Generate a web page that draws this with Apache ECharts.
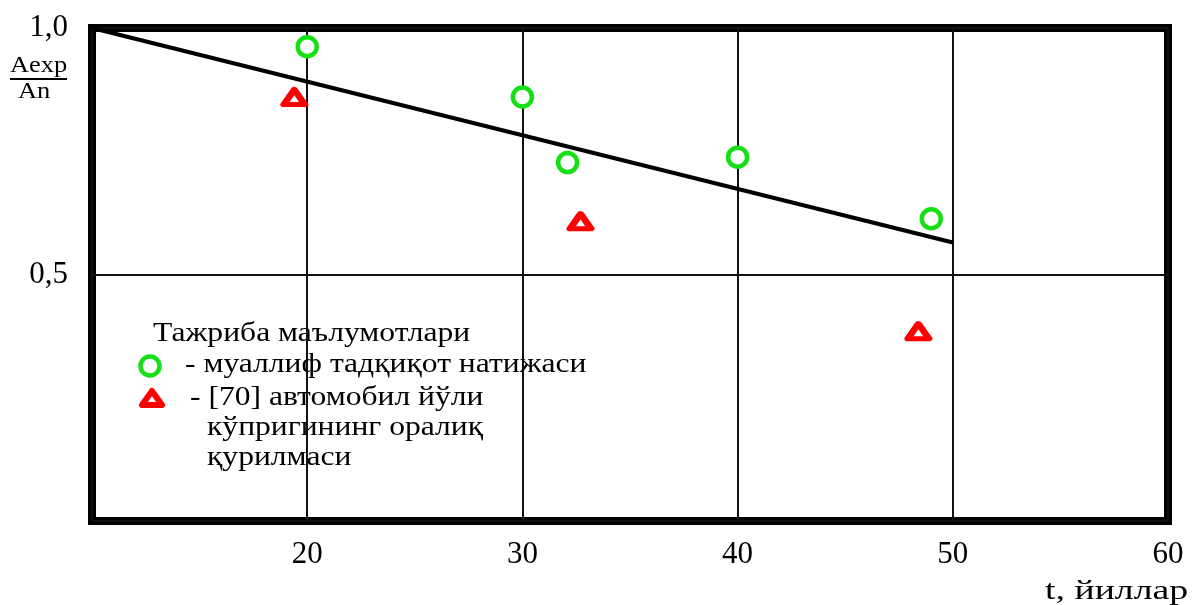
<!DOCTYPE html>
<html>
<head>
<meta charset="utf-8">
<script src="https://cdn.jsdelivr.net/npm/echarts@6/dist/echarts.min.js"></script>
<style>
  html, body { margin: 0; padding: 0; background: #fff; }
  #chart { width: 1194px; height: 605px; }
</style>
</head>
<body>
<div id="chart"></div>
<script>
// Experimental ratio Aexp/An versus service life t (years)
const authorPoints = [[20, 0.962], [30, 0.860], [32.1, 0.727], [40, 0.738], [49, 0.613]];
const refPoints = [[19.4, 0.860], [32.7, 0.608], [48.4, 0.385]];
const trendLine = [[10, 1.0], [50, 0.565]];

const xTickValues = [20, 30, 40, 50, 60];
const xTickLabels = ['20', '30', '40', '50', '60'];
const yTickValues = [0.5, 1.0];
const yTickLabels = ['0,5', '1,0'];

const legendTitle = 'Тажриба маълумотлари';
const legendAuthor = '- муаллиф тадқиқот натижаси';
const legendRefLines = ['- [70] автомобил йўли', 'кўпригининг оралиқ', 'қурилмаси'];
const xName = 't, йиллар';
const yNameTop = 'Aexp';
const yNameBottom = 'An';

const FONT = '"Liberation Serif", "DejaVu Serif", serif';
const GREEN = '#14e014';
const RED = '#ff0000';
const TEXT_SX = 1.17;

function lookup(values, labels, v) {
  const i = values.findIndex(t => Math.abs(t - v) < 1e-9);
  return i < 0 ? '' : labels[i];
}

function label(x, y, text, size, sx) {
  return {
    type: 'text', x: x, y: y, scaleX: sx || TEXT_SX,
    style: { text: text, font: size + 'px ' + FONT, fill: '#000', verticalAlign: 'middle' }
  };
}

const chart = echarts.init(document.getElementById('chart'), null, { renderer: 'canvas' });

chart.setOption({
  animation: false,
  backgroundColor: '#fff',
  grid: {
    left: 92, right: 26, top: 28, bottom: 84,
    show: true, borderColor: '#000', borderWidth: 8,
    backgroundColor: 'transparent',
    containLabel: false, outerBoundsMode: 'none'
  },
  xAxis: {
    type: 'value', min: 10, max: 60, interval: 10,
    axisLine: { show: false }, axisTick: { show: false },
    splitLine: { show: true, lineStyle: { color: '#111', width: 2 } },
    axisLabel: {
      margin: 18, color: '#000', fontFamily: FONT, fontSize: 31,
      formatter: v => lookup(xTickValues, xTickLabels, v)
    }
  },
  yAxis: {
    type: 'value', min: 0, max: 1, interval: 0.5,
    axisLine: { show: false }, axisTick: { show: false },
    splitLine: { show: true, lineStyle: { color: '#111', width: 2 } },
    axisLabel: {
      margin: 24, color: '#000', fontFamily: FONT, fontSize: 31,
      formatter: v => lookup(yTickValues, yTickLabels, v)
    }
  },
  series: [
    {
      type: 'line', data: trendLine, showSymbol: false, symbol: 'none',
      lineStyle: { color: '#000', width: 4 }, z: 3
    },
    {
      type: 'scatter', data: authorPoints, symbol: 'circle', symbolSize: 19,
      itemStyle: { color: '#fff', borderColor: GREEN, borderWidth: 4.5, opacity: 1 }, z: 4
    },
    {
      type: 'scatter', data: refPoints, symbol: 'triangle', symbolSize: [21, 15],
      itemStyle: { color: '#fff', borderColor: RED, borderWidth: 6, borderJoin: 'round', opacity: 1 }, z: 4
    }
  ],
  graphic: [
    // vertical axis caption as a fraction
    label(10, 66, yNameTop, 23, 1.15),
    { type: 'line', shape: { x1: 10, y1: 79, x2: 67, y2: 79 }, style: { stroke: '#000', lineWidth: 2 } },
    label(18, 92, yNameBottom, 23, 1.15),
    // horizontal axis caption
    label(1045, 592, xName, 28, 1.35),
    // legend block
    label(153, 334, legendTitle, 27),
    { type: 'circle', shape: { cx: 150, cy: 366, r: 9.5 }, style: { fill: '#fff', stroke: GREEN, lineWidth: 4.5 } },
    label(185, 365, legendAuthor, 27),
    { type: 'polygon', shape: { points: [[152, 391], [162, 405], [142, 405]] }, style: { fill: '#fff', stroke: RED, lineWidth: 6, lineJoin: 'round' } },
    label(190, 398, legendRefLines[0], 27),
    label(207, 428, legendRefLines[1], 27),
    label(207, 458, legendRefLines[2], 27)
  ]
});
</script>
</body>
</html>
